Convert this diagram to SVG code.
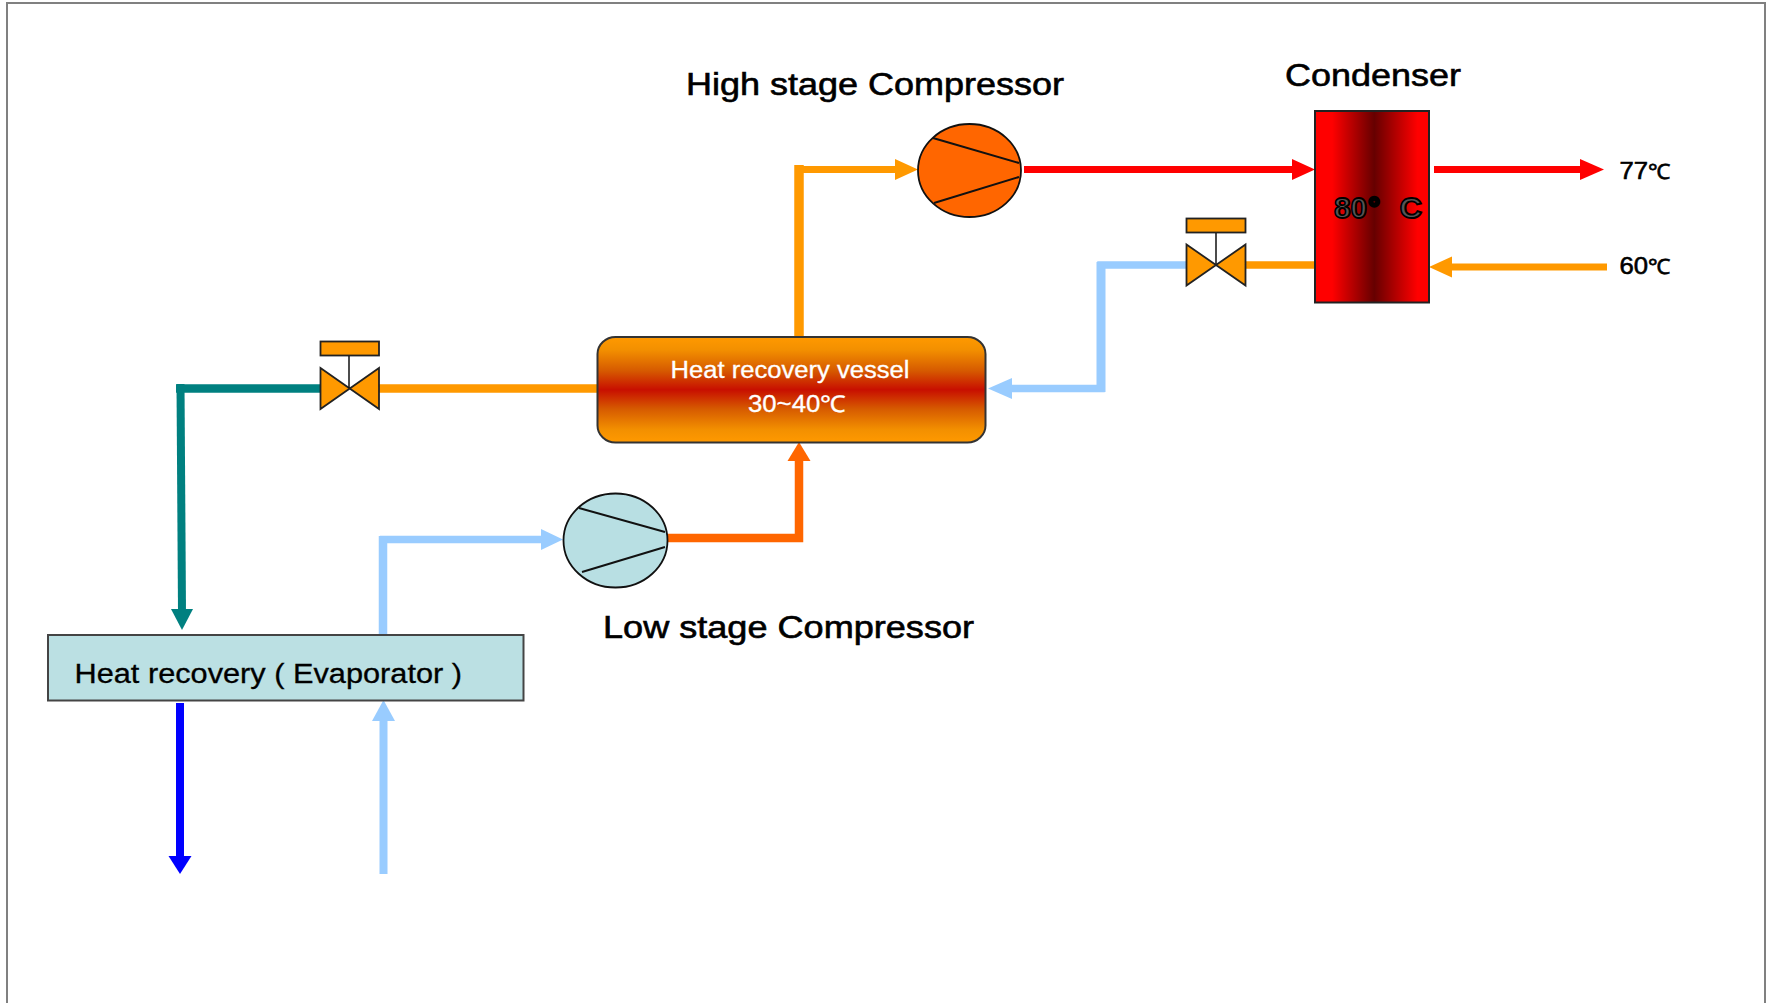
<svg xmlns="http://www.w3.org/2000/svg" width="1767" height="1003" viewBox="0 0 1767 1003">
<style>
text{font-family:"Liberation Sans",Arial,sans-serif;fill:#000;stroke:#000;stroke-width:.6}
.w{fill:#fff;stroke:#fff;stroke-width:.3}
.pipe{fill:none;stroke-linejoin:miter;stroke-linecap:butt}
.v{fill:#f90;stroke:#222;stroke-width:1.800}
.c{stroke:#111;stroke-width:1.800}
.l{fill:none;stroke:#111;stroke-width:2}
.o{fill:#555;stroke:#000;stroke-width:1.800;font-weight:bold}
</style>
<defs>
<linearGradient id="vessel" x1="0" y1="0" x2="0" y2="1"><stop offset="0" stop-color="#f90"/><stop offset=".12" stop-color="#f39000"/><stop offset=".32" stop-color="#d65a00"/><stop offset=".5" stop-color="#c80f00"/><stop offset=".68" stop-color="#d65a00"/><stop offset=".88" stop-color="#f39000"/><stop offset="1" stop-color="#f90"/></linearGradient>
<linearGradient id="cond" x1="0" y1="0" x2="1" y2="0"><stop offset="0" stop-color="#f00"/><stop offset=".15" stop-color="#f00"/><stop offset=".52" stop-color="#600"/><stop offset=".9" stop-color="#f00"/><stop offset="1" stop-color="#f00"/></linearGradient>
</defs>
<rect width="1767" height="1003" fill="#fff"/>
<path d="M7 1003V3H1765V1003" fill="none" stroke="#808080" stroke-width="2"/>
<g id="connectors">
<path class="pipe" stroke="#f00" stroke-width="7" d="M1024 169.500H1295"/><path fill="#f00" d="M1315 169.500L1292 159V180Z"/>
<path class="pipe" stroke="#f00" stroke-width="7" d="M1434 169.500H1584"/><path fill="#f00" d="M1604 169.500L1580 159V180Z"/>
<path class="pipe" stroke="#f90" stroke-width="7" d="M1607 267H1450"/><path fill="#f90" d="M1429 267L1452 256.500V277.500Z"/>
<path class="pipe" stroke="#f90" stroke-width="7.500" d="M1246 265H1315"/>
<path class="pipe" stroke="#9cf" stroke-width="7.500" d="M1186 265H1101V388.500H1010"/><path class="pipe" stroke="#9cf" stroke-width="9" d="M1101 262V392"/><path fill="#9cf" d="M988 388.500L1012 378V399Z"/>
<path class="pipe" stroke="#f90" stroke-width="9.500" d="M799 337V165"/><path class="pipe" stroke="#f90" stroke-width="7" d="M795 169.500H897"/><path fill="#f90" d="M918 169.500L895 159V180Z"/>
<path class="pipe" stroke="#f90" stroke-width="8.500" d="M379 388.500H599"/>
<path class="pipe" stroke="#008080" stroke-width="8.500" d="M176 388.500H320"/><path class="pipe" stroke="#008080" stroke-width="8" d="M180.500 384L182 612"/><path fill="#008080" d="M182 630L171 609H193Z"/>
<path class="pipe" stroke="#f60" stroke-width="8.500" d="M664 538H799V458"/><path fill="#f60" d="M799 442L787.500 461H810.500Z"/>
<path class="pipe" stroke="#9cf" stroke-width="7.500" d="M380 539.500H543"/><path class="pipe" stroke="#9cf" stroke-width="8.500" d="M383 634V536"/><path fill="#9cf" d="M563 539.500L541 529V550Z"/>
<path class="pipe" stroke="#00f" stroke-width="8" d="M180 703V858"/><path fill="#00f" d="M180 874L168.500 856H191.500Z"/>
<path class="pipe" stroke="#9cf" stroke-width="8" d="M383.500 874V718"/><path fill="#9cf" d="M383.500 700L372 721H395Z"/>
</g>
<g id="condenser">
<rect x="1315" y="111" width="114" height="191.500" fill="url(#cond)" stroke="#222" stroke-width="2"/>
<text class="o" x="1334" y="218" font-size="30" textLength="33" lengthAdjust="spacingAndGlyphs">80</text>
<text x="1368" y="218" font-size="30" style="stroke-width:3.500">°</text>
<text class="o" x="1399.500" y="218" font-size="30" textLength="22.500" lengthAdjust="spacingAndGlyphs">C</text>
<text x="1285" y="86" font-size="32" textLength="176" lengthAdjust="spacingAndGlyphs">Condenser</text>
</g>
<g id="high-stage-compressor">
<ellipse cx="969.500" cy="170.500" rx="51.500" ry="46.500" fill="#f60" class="c"/>
<path class="l" d="M933 138L1019 163M934 203L1019 177"/>
<text x="686" y="95" font-size="31" textLength="378" lengthAdjust="spacingAndGlyphs">High stage Compressor</text>
</g>
<g id="low-stage-compressor">
<ellipse cx="615.500" cy="540.500" rx="52" ry="47" fill="#b8dfe3" class="c"/>
<path class="l" d="M579 508L665 532M582 572L665 547"/>
<text x="603" y="638" font-size="31" textLength="371" lengthAdjust="spacingAndGlyphs">Low stage Compressor</text>
</g>
<g id="heat-recovery-vessel">
<rect x="597.500" y="337" width="388" height="105.500" rx="18" ry="17" fill="url(#vessel)" stroke="#333" stroke-width="2"/>
<text class="w" x="670.500" y="378" font-size="23" textLength="239" lengthAdjust="spacingAndGlyphs">Heat recovery vessel</text>
<text class="w" x="748" y="412" font-size="23" textLength="98" lengthAdjust="spacingAndGlyphs">30~40℃</text>
</g>
<g id="evaporator">
<rect x="48" y="635" width="475.500" height="65.500" fill="#bbe0e3" stroke="#444" stroke-width="2"/>
<text x="74.500" y="683" font-size="27" textLength="387.500" lengthAdjust="spacingAndGlyphs" style="stroke-width:.3">Heat recovery ( Evaporator )</text>
</g>
<g id="valve-left">
<rect class="v" x="320.500" y="341.500" width="58.500" height="14"/>
<path class="v" d="M320.500 368L379 409V368L320.500 409Z"/>
<path stroke="#111" stroke-width="1.500" d="M349 356V388"/>
</g>
<g id="valve-right">
<rect class="v" x="1186.500" y="218.500" width="59" height="14"/>
<path class="v" d="M1186.500 244.500L1245.500 285.500V244.500L1186.500 285.500Z"/>
<path stroke="#111" stroke-width="1.500" d="M1216 233V264"/>
</g>
<g id="label-77"><text x="1619.500" y="179" font-size="24" textLength="51" lengthAdjust="spacingAndGlyphs">77<tspan font-size="21">℃</tspan></text></g>
<g id="label-60"><text x="1619.500" y="274" font-size="24" textLength="51" lengthAdjust="spacingAndGlyphs">60<tspan font-size="21">℃</tspan></text></g>
</svg>
